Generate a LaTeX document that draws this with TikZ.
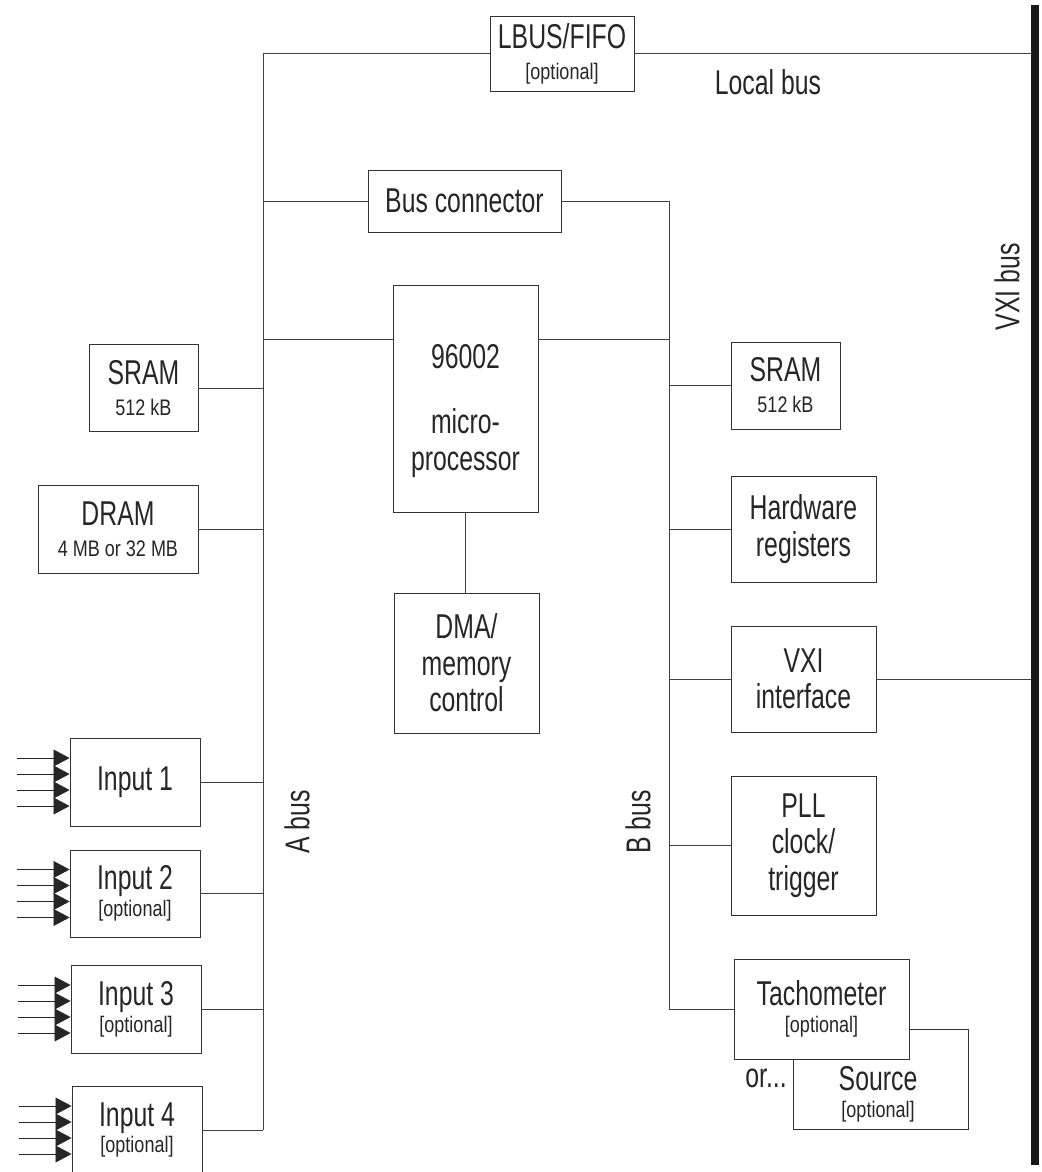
\documentclass[tikz,border=0pt]{standalone}
\usepackage{fontspec}
\setmainfont{Liberation Sans}[FakeStretch=0.72]
\newfontfamily\narrowsmall{Liberation Sans}[FakeStretch=0.8]
\usetikzlibrary{arrows.meta,calc}

\newcommand{\smalltext}[1]{{\narrowsmall\fontsize{16}{18}\selectfont #1}}

\tikzset{
  block/.style={draw=black!80, line width=0.6pt, fill=white, align=center,
    inner sep=0pt, text=black!85, font=\fontsize{24.5}{26}\selectfont},
  boxsize/.style 2 args={minimum width=#1*0.025cm, minimum height=#2*0.025cm},
  txt/.style={inner sep=0pt, align=center, text=black!85, font=\fontsize{24.5}{26}\selectfont},
  buslabel/.style={txt, rotate=90},
  wire/.style={draw=black!75, line width=0.6pt},
  inarrow/.style={wire, draw=black!85, -{Triangle[length=0.4cm, width=0.42cm]}}
}

\begin{document}
\begin{tikzpicture}[x=0.025cm, y=-0.025cm]
\useasboundingbox (0,0) rectangle (1041,1172);

% bus lines
\coordinate (ax) at (263,53);
\coordinate (bx) at (669,201);
\coordinate (vtop) at (1035,5);
\coordinate (vbot) at (1035,1165);
\coordinate (row) at (0,339);

% blocks
\node[block, boxsize={144}{75}] (lbus) at (562,53.5) {LBUS/FIFO\\[-4pt]\smalltext{[optional]}};
\node[block, boxsize={193}{62}] (buscon) at (464.5,201) {Bus connector};
\node[block, boxsize={145}{227}] (micro) at (465.5,398.5) {\rule{0pt}{35pt}96002\\[20pt]micro-\\processor};
\node[block, boxsize={145}{140}] (dma) at (466.5,663) {DMA/\\memory\\control};
\node[block, boxsize={109}{87}] (sramA) at (143.5,388) {SRAM\\[-4pt]\smalltext{512 kB}};
\node[block, boxsize={160}{88}] (dram) at (118,529) {DRAM\\[-4pt]\smalltext{4 MB or 32 MB}};
\node[block, boxsize={130}{88}] (in1) at (135,782) {Input 1};
\node[block, boxsize={130}{87}] (in2) at (135,893.5) {Input 2\\[-7pt]\smalltext{[optional]}};
\node[block, boxsize={130}{88}] (in3) at (136,1009) {Input 3\\[-7pt]\smalltext{[optional]}};
\node[block, boxsize={130}{88}] (in4) at (137,1130) {Input 4\\[-7pt]\smalltext{[optional]}};
\node[block, boxsize={109}{87}] (sramB) at (785.5,385.5) {SRAM\\[-4pt]\smalltext{512 kB}};
\node[block, boxsize={145}{106}] (hwreg) at (803.5,529) {Hardware\\registers};
\node[block, boxsize={145}{106}] (vxiif) at (803.5,679) {VXI\\interface};
\node[block, boxsize={145}{139}] (pll) at (803.5,845.5) {PLL\\clock/\\trigger};
\node[block, boxsize={175}{100}] (source) at (880.5,1079) {};
\node[txt] (sourcetxt) at (878,1094) {Source\\[-7pt]\smalltext{[optional]}};
\node[block, boxsize={175}{100}] (tacho) at (821.5,1009) {Tachometer\\[-7pt]\smalltext{[optional]}};

% A bus
\draw[wire] (lbus.west) -| (in4 -| ax);
\draw[wire] (buscon.west) -- (buscon.west -| ax);
\draw[wire] (row -| ax) -- (row -| micro.west);
\foreach \b in {sramA, dram, in1, in2, in3, in4}
  \draw[wire] (\b.east) -- (\b.east -| ax);

% B bus
\draw[wire] (buscon.east) -| (tacho.west -| bx) -- (tacho.west);
\draw[wire] (row -| micro.east) -- (row -| bx);
\foreach \b in {sramB, hwreg, vxiif, pll}
  \draw[wire] (\b.west) -- (\b.west -| bx);

\draw[wire] (micro.south) -- (micro.south |- dma.north);

% VXI bus and local bus
\draw[wire] (lbus.east) -- (lbus.east -| vtop);
\draw[wire] (vxiif.east) -- (vxiif.east -| vtop);
\draw[black!90, line width=5pt] (vtop) -- (vbot);

% input channels
\foreach \b in {in1, in2, in3, in4}
  \foreach \o in {-24,-8,8,24}
    \draw[inarrow] ($(\b.west)+(-53,\o)$) -- ($(\b.west)+(0,\o)$);

% labels
\node[buslabel] (abus) at (297,822) {A bus};
\node[buslabel] (bbus) at (638,822) {B bus};
\node[buslabel] (vxibus) at (1007,287) {VXI bus};
\node[txt] (localbus) at (768,82) {Local bus};
\node[txt] (orlabel) at (766,1078) {or...};
\end{tikzpicture}
\end{document}
